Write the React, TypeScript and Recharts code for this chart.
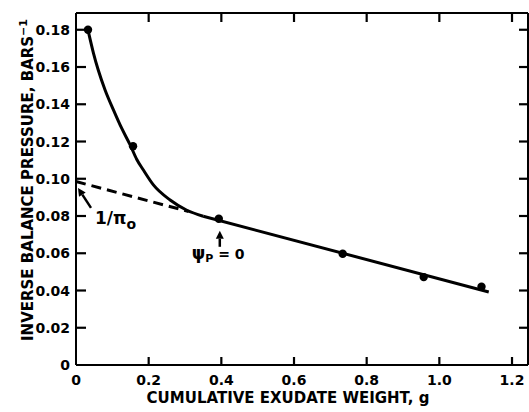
import React from "react";
import { ComposedChart, Line, Scatter, XAxis, YAxis, ReferenceDot, Label } from "recharts";

const xTicks = [0, 0.2, 0.4, 0.6, 0.8, 1.0, 1.2];
const xTickLabels = ["0", "0.2", "0.4", "0.6", "0.8", "1.0", "1.2"];
const yTicks = [0, 0.02, 0.04, 0.06, 0.08, 0.1, 0.12, 0.14, 0.16, 0.18];
const yTickLabels = ["0", "0.02", "0.04", "0.06", "0.08", "0.10", "0.12", "0.14", "0.16", "0.18"];

const X_MAX = 1.244;
const Y_MAX = 0.189;

// measured points
const measured = [
  { x: 0.033, y: 0.18 },
  { x: 0.157, y: 0.1175 },
  { x: 0.393, y: 0.0785 },
  { x: 0.734, y: 0.0597 },
  { x: 0.957, y: 0.0472 },
  { x: 1.116, y: 0.042 },
];

// hand-drawn curve through the turgid region
const curve = [
  { x: 0.034, y: 0.179 },
  { x: 0.048, y: 0.1675 },
  { x: 0.061, y: 0.1585 },
  { x: 0.08, y: 0.1477 },
  { x: 0.103, y: 0.137 },
  { x: 0.126, y: 0.127 },
  { x: 0.149, y: 0.1182 },
  { x: 0.167, y: 0.1105 },
  { x: 0.185, y: 0.1048 },
  { x: 0.213, y: 0.0967 },
  { x: 0.259, y: 0.0886 },
  { x: 0.305, y: 0.0831 },
  { x: 0.35, y: 0.0799 },
];

// linear part
const straight = [
  { x: 0.35, y: 0.0799 },
  { x: 1.136, y: 0.0392 },
];

// extrapolation to x = 0
const extrapolated = [
  { x: 0, y: 0.0985 },
  { x: 0.31, y: 0.0824 },
];

const piArrowTip = { x: 0.0055, y: 0.0951 };
const turgorPoint = { x: 0.393, y: 0.0785 };

// inward tick marks on all four sides of the frame
const bottomTickMarks = xTicks.slice(1).map((v) => ({ x: v, y: 0 }));
const topTickMarks = xTicks.slice(1).map((v) => ({ x: v, y: Y_MAX }));
const leftTickMarks = yTicks.slice(1).map((v) => ({ x: 0, y: v }));
const rightTickMarks = yTicks.slice(1).map((v) => ({ x: X_MAX, y: v }));

const FONT = "'DejaVu Sans', sans-serif";
const PLOT_TOP = 13;
const PLOT_BOTTOM = 365;
const PLOT_LEFT = 76;
const PLOT_RIGHT = 528;
const CHART_W = 529;
const CHART_H = 412;

const BottomTick = (props: any) => {
  const { x, y, index } = props;
  return (
    <text x={x} y={y + 20} textAnchor="middle" fontFamily={FONT} fontWeight="bold" fontSize={14} fill="#000">
      {xTickLabels[index]}
    </text>
  );
};

const LeftTick = (props: any) => {
  const { x, y, index } = props;
  return (
    <text x={x - 6} y={y + 5} textAnchor="end" fontFamily={FONT} fontWeight="bold" fontSize={14} fill="#000">
      {yTickLabels[index]}
    </text>
  );
};

const tickMark = (dx: number, dy: number) => (props: any) =>
  <path d={`M${props.cx},${props.cy}L${props.cx + dx},${props.cy + dy}`} stroke="#000" strokeWidth={2.2} fill="none" />;

const Arrow = ({ x1, y1, x2, y2 }: { x1: number; y1: number; x2: number; y2: number }) => {
  // arrow pointing to (x2, y2)
  const a = Math.atan2(y2 - y1, x2 - x1);
  const len = 8;
  const w = 4;
  const bx = x2 - len * Math.cos(a);
  const by = y2 - len * Math.sin(a);
  const px = -Math.sin(a) * w;
  const py = Math.cos(a) * w;
  return (
    <g>
      <line x1={x1} y1={y1} x2={bx} y2={by} stroke="#000" strokeWidth={2.5} />
      <polygon points={`${x2},${y2} ${bx + px},${by + py} ${bx - px},${by - py}`} fill="#000" />
    </g>
  );
};

const PiLabel = (props: any) => {
  const { cx, cy } = props;
  return (
    <g>
      <Arrow x1={cx + 13} x2={cx} y1={cy + 20} y2={cy} />
      <text x={cx + 17} y={cy + 36} fontFamily={FONT} fontWeight="bold" fontSize={17} fill="#000">
        1/π
        <tspan fontSize={14} dy={5}>o</tspan>
      </text>
    </g>
  );
};

const TurgorLabel = (props: any) => {
  const { cx, cy } = props;
  return (
    <g>
      <Arrow x1={cx + 1} x2={cx + 1} y1={cy + 28} y2={cy + 12} />
      <text x={cx - 27} y={cy + 40} fontFamily={FONT} fontWeight="bold" fontSize={17} fill="#000">
        ψ
        <tspan fontSize={11} dy={3}>P</tspan>
        <tspan dy={-3} fontSize={14}> = 0</tspan>
      </text>
    </g>
  );
};

const YTitle = (props: any) => {
  const vb = props.viewBox || { x: 0, y: PLOT_TOP, width: PLOT_LEFT, height: PLOT_BOTTOM - PLOT_TOP };
  const cx = vb.x + 33;
  const cy = vb.y + vb.height / 2 - 9;
  return (
    <text transform={`translate(${cx}, ${cy}) rotate(-90)`} textAnchor="middle" fontFamily={FONT} fontWeight="bold" fontSize={15} fill="#000">
      INVERSE BALANCE PRESSURE, BARS
      <tspan fontSize={11} dy={-6}>−1</tspan>
    </text>
  );
};

const XTitle = (props: any) => {
  const vb = props.viewBox || { x: PLOT_LEFT, y: PLOT_BOTTOM, width: PLOT_RIGHT - PLOT_LEFT, height: 47 };
  return (
    <text x={vb.x + vb.width / 2 - 14} y={vb.y + 38} textAnchor="middle" fontFamily={FONT} fontWeight="bold" fontSize={15} fill="#000">
      CUMULATIVE EXUDATE WEIGHT, g
    </text>
  );
};

const dotShape = (props: any) => <circle cx={props.cx} cy={props.cy} r={4.2} fill="#000" />;

export default function App() {
  const axisLine = { stroke: "#000", strokeWidth: 2 };
  return (
    <div style={{ position: "absolute", left: 0, top: 0, background: "#fff" }}>
      <ComposedChart width={CHART_W} height={CHART_H} margin={{ top: 0, right: 0, bottom: 0, left: 0 }}>
        <XAxis xAxisId="b" dataKey="x" type="number" domain={[0, X_MAX]} ticks={xTicks} interval={0}
          height={CHART_H - PLOT_BOTTOM} tickSize={0} tickMargin={0} tickLine={false} axisLine={axisLine} tick={<BottomTick />}>
          <Label content={<XTitle />} />
        </XAxis>
        <XAxis xAxisId="t" orientation="top" dataKey="x" type="number" domain={[0, X_MAX]}
          height={PLOT_TOP} tick={false} tickLine={false} axisLine={axisLine} />
        <YAxis yAxisId="l" dataKey="y" type="number" domain={[0, Y_MAX]} ticks={yTicks} interval={0}
          width={PLOT_LEFT} tickSize={0} tickMargin={0} tickLine={false} axisLine={axisLine} tick={<LeftTick />}>
          <Label content={<YTitle />} />
        </YAxis>
        <YAxis yAxisId="r" orientation="right" dataKey="y" type="number" domain={[0, Y_MAX]}
          width={CHART_W - PLOT_RIGHT} tick={false} tickLine={false} axisLine={axisLine} />
        <Scatter xAxisId="b" yAxisId="l" data={bottomTickMarks} dataKey="y" shape={tickMark(0, -8)} isAnimationActive={false} />
        <Scatter xAxisId="b" yAxisId="l" data={topTickMarks} dataKey="y" shape={tickMark(0, 9)} isAnimationActive={false} />
        <Scatter xAxisId="b" yAxisId="l" data={leftTickMarks} dataKey="y" shape={tickMark(10, 0)} isAnimationActive={false} />
        <Scatter xAxisId="b" yAxisId="l" data={rightTickMarks} dataKey="y" shape={tickMark(-9, 0)} isAnimationActive={false} />
        <Line xAxisId="b" yAxisId="l" data={extrapolated} dataKey="y" type="linear" stroke="#000" strokeWidth={3}
          strokeDasharray="10 6" dot={false} activeDot={false} isAnimationActive={false} />
        <Line xAxisId="b" yAxisId="l" data={curve} dataKey="y" type="monotone" stroke="#000" strokeWidth={3}
          dot={false} activeDot={false} isAnimationActive={false} />
        <Line xAxisId="b" yAxisId="l" data={straight} dataKey="y" type="linear" stroke="#000" strokeWidth={3}
          dot={false} activeDot={false} isAnimationActive={false} />
        <Scatter xAxisId="b" yAxisId="l" data={measured} dataKey="y" shape={dotShape} isAnimationActive={false} />
        <ReferenceDot xAxisId="b" yAxisId="l" x={piArrowTip.x} y={piArrowTip.y} r={0} shape={<PiLabel />} />
        <ReferenceDot xAxisId="b" yAxisId="l" x={turgorPoint.x} y={turgorPoint.y} r={0} shape={<TurgorLabel />} />
      </ComposedChart>
    </div>
  );
}
